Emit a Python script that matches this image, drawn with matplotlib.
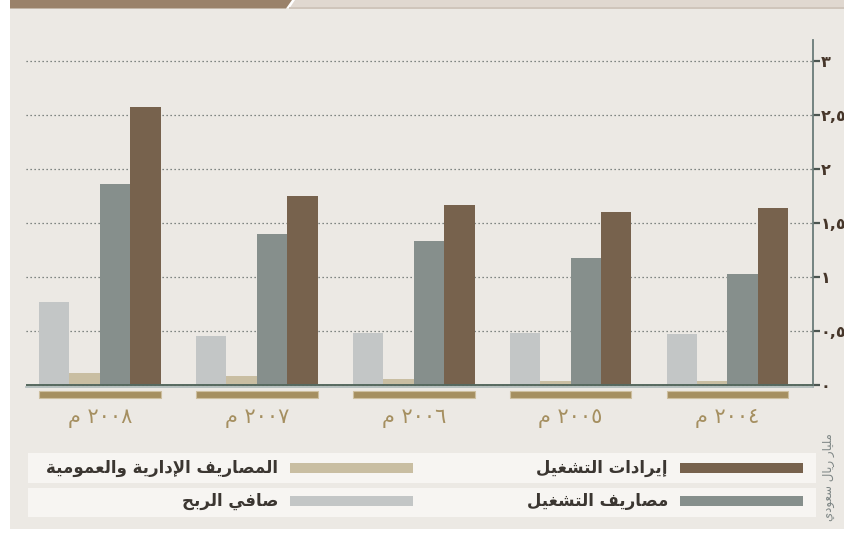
"""Bar chart: operating revenues / expenses / net profit, 2004-2008 (Arabic labels)."""

import matplotlib

matplotlib.use("Agg")
import matplotlib.pyplot as plt  # noqa: E402
from matplotlib.patches import Rectangle, Polygon  # noqa: E402

# ---- data (left to right, as drawn) ----
years = ["٢٠٠٨", "٢٠٠٧", "٢٠٠٦", "٢٠٠٥", "٢٠٠٤"]
net_profit = [0.767, 0.447, 0.475, 0.475, 0.465]
ga_expenses = [0.107, 0.079, 0.05, 0.031, 0.031]
op_expenses = [1.86, 1.39, 1.33, 1.175, 1.02]
op_revenues = [2.57, 1.743, 1.663, 1.598, 1.635]

y_ticks = [0, 0.5, 1, 1.5, 2, 2.5, 3]
y_tick_labels = ["٠", "٠,٥", "١", "١,٥", "٢", "٢,٥", "٣"]

series_names = ["صافي الربح", "المصاريف الإدارية والعمومية", "مصاريف التشغيل", "إيرادات التشغيل"]
unit_label = "مليار ريال سعودي"
year_suffix = "م"

# ---- palette ----
C_PROFIT = "#c3c6c6"
C_GA = "#c9bea2"
C_OPEX = "#868f8c"
C_REV = "#77624d"
C_PANEL = "#ece9e4"
C_LEGEND_BG = "#f7f5f2"
C_TAN = "#a58f60"
C_TICK = "#46362a"
C_TEXT = "#3b3631"

# ---- minimal Arabic shaping (matplotlib does no shaping / bidi) ----
FORMS = {
    "ا": ("\uFE8D", "\uFE8E", None, None),
    "أ": ("\uFE83", "\uFE84", None, None),
    "إ": ("\uFE87", "\uFE88", None, None),
    "ب": ("\uFE8F", "\uFE90", "\uFE91", "\uFE92"),
    "ة": ("\uFE93", "\uFE94", None, None),
    "ت": ("\uFE95", "\uFE96", "\uFE97", "\uFE98"),
    "ح": ("\uFEA1", "\uFEA2", "\uFEA3", "\uFEA4"),
    "د": ("\uFEA9", "\uFEAA", None, None),
    "ر": ("\uFEAD", "\uFEAE", None, None),
    "س": ("\uFEB1", "\uFEB2", "\uFEB3", "\uFEB4"),
    "ش": ("\uFEB5", "\uFEB6", "\uFEB7", "\uFEB8"),
    "ص": ("\uFEB9", "\uFEBA", "\uFEBB", "\uFEBC"),
    "ع": ("\uFEC9", "\uFECA", "\uFECB", "\uFECC"),
    "غ": ("\uFECD", "\uFECE", "\uFECF", "\uFED0"),
    "ف": ("\uFED1", "\uFED2", "\uFED3", "\uFED4"),
    "ل": ("\uFEDD", "\uFEDE", "\uFEDF", "\uFEE0"),
    "م": ("\uFEE1", "\uFEE2", "\uFEE3", "\uFEE4"),
    "و": ("\uFEED", "\uFEEE", None, None),
    "ي": ("\uFEF1", "\uFEF2", "\uFEF3", "\uFEF4"),
    "LA": ("\uFEFB", "\uFEFC", None, None),
    "LAh": ("\uFEF9", "\uFEFA", None, None),
    "LAa": ("\uFEF7", "\uFEF8", None, None),
}
LAM_ALEF = {"ا": "LA", "إ": "LAh", "أ": "LAa"}


def shape(text: str) -> str:
    tokens = []
    i = 0
    while i < len(text):
        c = text[i]
        if c == "ل" and i + 1 < len(text) and text[i + 1] in LAM_ALEF:
            tokens.append(LAM_ALEF[text[i + 1]])
            i += 2
            continue
        tokens.append(c)
        i += 1
    out = []
    for k, t in enumerate(tokens):
        if t not in FORMS:
            out.append(t)
            continue
        iso, fin, ini, med = FORMS[t]
        prev = tokens[k - 1] if k > 0 else None
        nxt = tokens[k + 1] if k + 1 < len(tokens) else None
        jp = prev in FORMS and FORMS[prev][2] is not None
        jn = nxt in FORMS and ini is not None
        if jp and jn:
            out.append(med)
        elif jp:
            out.append(fin)
        elif jn:
            out.append(ini)
        else:
            out.append(iso)
    return "".join(out)[::-1]


plt.rcParams.update({"font.family": ["DejaVu Sans"]})

W, H = 845, 533
fig = plt.figure(figsize=(W / 100, H / 100), dpi=100, facecolor="white")


def fx(px):
    return px / W


def fy(py):
    return 1 - py / H


def frect(x0, y0, x1, y1, color, zorder=-1):
    fig.patches.append(
        Rectangle((fx(x0), fy(y1)), fx(x1) - fx(x0), fy(y0) - fy(y1),
                  transform=fig.transFigure, facecolor=color, edgecolor="none", zorder=zorder)
    )


# background panel and top band
frect(10, 8, 845, 529, C_PANEL, zorder=-3)
fig.patches.append(Polygon([(fx(10), fy(0)), (fx(292), fy(0)), (fx(286), fy(8.5)), (fx(10), fy(8.5))],
                           closed=True, transform=fig.transFigure, facecolor="#9a826a",
                           edgecolor="none", zorder=-2))
fig.patches.append(Polygon([(fx(295), fy(0)), (fx(845), fy(0)), (fx(845), fy(8.5)), (fx(289), fy(8.5))],
                           closed=True, transform=fig.transFigure, facecolor="#e0d8d0",
                           edgecolor="none", zorder=-2))
frect(289, 7.5, 845, 9, "#cfc5bb", zorder=-2)

# ---- main axes ----
left, right, top, bottom = 26, 813, 40, 386.7
ax = fig.add_axes([fx(left), fy(bottom), fx(right) - fx(left), fy(top) - fy(bottom)])
ax.set_facecolor("none")

n = len(years)
xs = list(range(n))
bw = 0.194
series = [net_profit, ga_expenses, op_expenses, op_revenues]
colors = [C_PROFIT, C_GA, C_OPEX, C_REV]
for j, (vals, col) in enumerate(zip(series, colors)):
    ax.bar([x + (j - 1.5) * bw for x in xs], vals, width=bw, color=col,
           edgecolor="none", zorder=3)

ax.set_xlim(-0.471, 4.545)
ax.set_ylim(-0.02, 3.19)
ax.set_xticks([])
ax.yaxis.tick_right()
ax.set_yticks(y_ticks)
ax.set_yticklabels(y_tick_labels, fontsize=11.5, fontweight="bold", color=C_TICK)
ax.tick_params(axis="y", direction="out", length=5, width=1.6, color="#4b5550", pad=0.5)
ax.grid(True, axis="y", color="#5d6664", linestyle=(0, (1, 2.2)), linewidth=0.9)
ax.set_axisbelow(True)
for s in ("top", "left"):
    ax.spines[s].set_visible(False)
ax.spines["right"].set_color("#6b7c79")
ax.spines["right"].set_linewidth(1.3)
ax.spines["bottom"].set_color("#b3bebd")
ax.spines["bottom"].set_linewidth(1.3)
ax.axhline(0, color="#56695f", linewidth=1.4, zorder=4)

# ---- year strip under the groups ----
ax_lab = fig.add_axes([fx(left), fy(440), fx(right) - fx(left), fy(388) - fy(440)])
ax_lab.set_xlim(ax.get_xlim())
ax_lab.set_ylim(0, 1)
ax_lab.axis("off")
ax_lab.bar(xs, [0.135] * n, bottom=0.81, width=4 * bw, color=C_TAN,
           edgecolor="#cdbf9f", linewidth=0.8)
for x, yr in zip(xs, years):
    ax_lab.text(x, 0.42, f"{shape(year_suffix)} {yr}", ha="center", va="center",
                fontsize=15, color=C_TAN)

# ---- legend ----
frect(28, 453, 816, 483, C_LEGEND_BG, zorder=-1)
frect(28, 488, 816, 517, C_LEGEND_BG, zorder=-1)
legend_slots = [  # (series index, swatch x0, row y center)
    (3, 680, 468),
    (1, 290, 468),
    (2, 680, 501),
    (0, 290, 501),
]
for idx, sx, cy in legend_slots:
    frect(sx, cy - 5.3, sx + 123, cy + 5.3, colors[idx], zorder=1)
    fig.text(fx(sx - 12), fy(cy), shape(series_names[idx]), ha="right", va="center",
             fontsize=12, fontweight="bold", color=C_TEXT)

fig.text(fx(829), fy(477), shape(unit_label), rotation=90, ha="center", va="center",
         fontsize=8.5, color="#7f8786")

fig.savefig("out.png", dpi=100, facecolor="white")
